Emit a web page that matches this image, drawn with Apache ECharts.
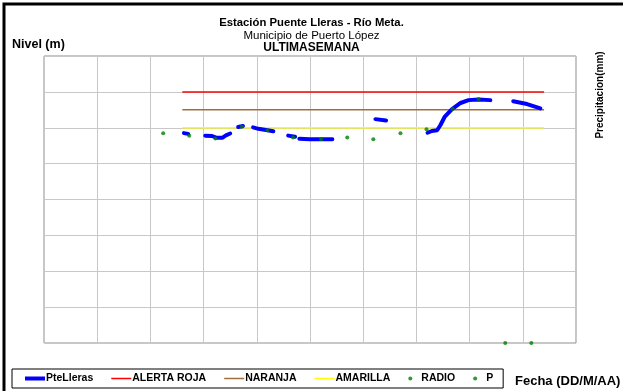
<!DOCTYPE html>
<html><head><meta charset="utf-8">
<script src="https://cdn.jsdelivr.net/npm/echarts@6/dist/echarts.min.js"></script>
<style>html,body{margin:0;padding:0;background:#fff}#c{width:623px;height:391px}</style>
</head><body><div id="c"></div>
<script>
// x: day position (0..10 grid units), y: level (m)
const pteLleras = [
  [2.63,5.85],[2.71,5.83],null,
  [3.03,5.78],[3.16,5.77],[3.25,5.72],[3.35,5.72],[3.42,5.79],[3.50,5.84],null,
  [3.65,6.02],[3.74,6.05],null,
  [3.93,6.01],[4.03,5.97],[4.20,5.93],[4.31,5.90],null,
  [4.59,5.78],[4.72,5.75],null,
  [4.80,5.69],[5.00,5.68],[5.20,5.68],[5.42,5.68],null,
  [6.23,6.24],[6.43,6.20],null,
  [7.21,5.86],[7.29,5.91],[7.39,5.93],[7.45,6.07],[7.53,6.30],[7.67,6.52],[7.83,6.69],[7.98,6.77],[8.17,6.79],[8.39,6.77],null,
  [8.82,6.74],[9.08,6.66],[9.33,6.54]
];
const radio = [[2.24,5.85],[2.73,5.78],[3.22,5.70],[3.72,6.03],[4.20,5.93],[4.68,5.73],[5.21,5.68],[5.70,5.73],[6.19,5.68],[6.70,5.85],[7.19,5.96],[7.68,6.52],[8.17,6.80]];
const precip = [[8.67,0],[9.16,0]];
const alertRange = [2.6, 9.4];
const alertaRoja = 7.0, naranja = 6.5, amarilla = 6.0;
const legendNames = ['PteLleras','ALERTA ROJA','NARANJA','AMARILLA','RADIO','P'];

const chart = echarts.init(document.getElementById('c'));
const F = 'Liberation Sans, Arial, sans-serif';
const hline = v => alertRange.map(x => [x, v]);
chart.setOption({
  animation:false,
  backgroundColor:'#fff',
  grid:{left:44,right:47,top:56,bottom:48,show:true,borderColor:'#8c8c8c',borderWidth:1},
  xAxis:{type:'value',min:0,max:10,interval:1,axisLabel:{show:false},axisTick:{show:false},axisLine:{show:false},
    splitLine:{show:true,lineStyle:{color:'#c8c8c8',width:1}}},
  yAxis:{type:'value',min:0,max:8,interval:1,axisLabel:{show:false},axisTick:{show:false},axisLine:{show:false},
    splitLine:{show:true,lineStyle:{color:'#c8c8c8',width:1}}},
  legend:{left:12,top:369,itemWidth:20,itemHeight:4,itemGap:18,
    borderColor:'#000',borderWidth:1,padding:[4,10,4,13],
    textStyle:{fontFamily:F,fontSize:10.5,fontWeight:'bold',color:'#000',padding:[0,0,0,-4]},
    data:[
      {name:'PteLleras',icon:'path://M0,0H20V4H0Z'},
      {name:'ALERTA ROJA',icon:'path://M0,0H20V1.5H0Z'},
      {name:'NARANJA',icon:'path://M0,0H20V1.5H0Z'},
      {name:'AMARILLA',icon:'path://M0,0H20V1.5H0Z'},
      {name:'RADIO',icon:'circle'},
      {name:'P',icon:'circle'}
    ]},
  title:[
    {text:'Estación Puente Lleras - Río Meta.',left:'center',top:17,padding:0,textStyle:{fontFamily:F,fontSize:11.3,fontWeight:'bold',color:'#000'}},
    {text:'Municipio de Puerto López',left:'center',top:30,padding:0,textStyle:{fontFamily:F,fontSize:11.5,fontWeight:'normal',color:'#000'}},
    {text:'ULTIMASEMANA',left:'center',top:42,padding:0,textStyle:{fontFamily:F,fontSize:12,fontWeight:'bold',color:'#000'}},
    {text:'Nivel (m)',left:12,top:38,padding:0,textStyle:{fontFamily:F,fontSize:12.5,fontWeight:'bold',color:'#000'}},
    {text:'Fecha (DD/M/AA)',left:515,top:375,padding:0,textStyle:{fontFamily:F,fontSize:13,fontWeight:'bold',color:'#000'}}
  ],
  graphic:[
    {type:'rect',shape:{x:4,y:4,width:640,height:420},style:{fill:'none',stroke:'#000',lineWidth:3},silent:true},
    {type:'text',x:600,y:95,rotation:Math.PI/2,style:{text:'Precipitacion(mm)',fontFamily:F,fontSize:10,fontWeight:'bold',fill:'#000',align:'center',verticalAlign:'middle'}}
  ],
  series:[
    {name:legendNames[0],type:'line',data:pteLleras,showSymbol:false,connectNulls:false,lineStyle:{color:'#0000ff',width:4,cap:'round',join:'round'},itemStyle:{color:'#0000ff'},z:3},
    {name:legendNames[1],type:'line',data:hline(alertaRoja),showSymbol:false,lineStyle:{color:'#ff0000',width:1.5},itemStyle:{color:'#ff0000'},z:2},
    {name:legendNames[2],type:'line',data:hline(naranja),showSymbol:false,lineStyle:{color:'#a0703c',width:1.5},itemStyle:{color:'#a0703c'},z:2},
    {name:legendNames[3],type:'line',data:hline(amarilla),showSymbol:false,lineStyle:{color:'#ffff00',width:1.5},itemStyle:{color:'#ffff00'},z:2},
    {name:legendNames[4],type:'scatter',data:radio,symbolSize:4,itemStyle:{color:'#008000'},z:4},
    {name:legendNames[5],type:'scatter',data:precip,symbolSize:4,itemStyle:{color:'#008000'},z:4}
  ]
});
</script></body></html>
